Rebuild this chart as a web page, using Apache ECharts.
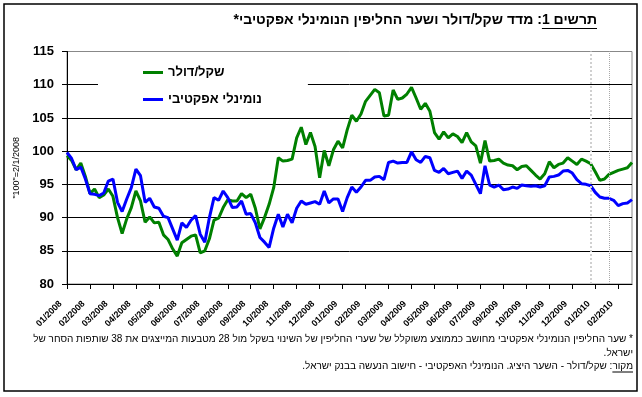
<!DOCTYPE html>
<html>
<head>
<meta charset="utf-8">
<script src="https://cdn.jsdelivr.net/npm/echarts@6/dist/echarts.min.js"></script>
<style>
html, body { margin: 0; padding: 0; background: #fff; }
#chart { width: 642px; height: 397px; }
</style>
</head>
<body>
<div id="chart"></div>
<script>
var tickLabels = ['01/2008', '02/2008', '03/2008', '04/2008', '05/2008', '06/2008', '07/2008',
  '08/2008', '09/2008', '10/2008', '11/2008', '12/2008', '01/2009', '02/2009', '03/2009',
  '04/2009', '05/2009', '06/2009', '07/2009', '09/2009', '10/2009', '11/2009', '12/2009',
  '01/2010', '02/2010'];

// שקל/דולר
var shekelDollar = [
  99.3, 98.6, 97.2, 98.2, 96.2, 93.6, 94.3, 93.0, 93.4, 94.3,
  93.2, 90.0, 87.6, 89.8, 91.5, 94.0, 92.5, 89.3, 90.1, 89.2,
  89.3, 87.4, 86.7, 85.3, 84.2, 86.2, 86.7, 87.2, 87.4, 84.7,
  85.0, 86.8, 89.6, 89.9, 91.5, 92.7, 92.5, 92.5, 93.6, 93.0,
  93.5, 91.4, 88.3, 90.0, 92.0, 94.5, 99.0, 98.5, 98.6, 98.8,
  102.0, 103.6, 101.0, 102.8, 100.7, 96.0, 100.1, 97.8, 100.2, 101.5,
  100.5, 103.2, 105.4, 104.5, 105.6, 107.5, 108.4, 109.3, 108.8, 105.3,
  105.4, 109.2, 107.8, 108.0, 108.6, 109.6, 108.0, 106.3, 107.2, 106.0,
  102.8, 101.8, 102.9, 102.0, 102.6, 102.2, 101.3, 102.8, 101.4, 100.8,
  98.2, 101.6, 98.5, 98.6, 98.8, 98.2, 97.9, 97.8, 97.2, 97.7,
  97.8, 97.1, 96.4, 95.8, 96.6, 98.4, 97.5, 98.0, 98.2, 99.0,
  98.5, 98.0, 98.8, 98.5, 98.1, 96.9, 95.6, 95.8, 96.5, 96.8,
  97.1, 97.3, 97.5, 98.3
];

// נומינלי אפקטיבי
var nominalEffective = [
  99.8, 98.9, 97.2, 97.6, 95.8, 93.6, 93.5, 93.3, 93.7, 95.5,
  95.8, 92.3, 90.9, 92.8, 94.5, 97.3, 96.3, 92.3, 92.9, 91.6,
  91.4, 90.2, 90.0, 88.3, 86.6, 89.2, 88.5, 89.6, 90.3, 87.5,
  86.3, 90.0, 93.0, 92.6, 94.0, 93.0, 91.5, 91.6, 92.5, 90.5,
  90.6, 89.2, 87.0, 86.3, 85.5, 88.4, 90.5, 88.6, 90.5, 89.2,
  91.4, 92.5, 92.0, 92.2, 92.4, 92.0, 94.0, 92.2, 92.8, 92.8,
  90.9, 93.0, 94.6, 93.8, 94.6, 95.6, 95.6, 96.1, 96.2, 95.7,
  98.3, 98.5, 98.2, 98.3, 98.3, 99.9, 98.7, 98.3, 99.2, 99.0,
  97.1, 96.8, 97.4, 96.6, 96.8, 97.0, 95.9, 97.0, 96.4, 95.0,
  93.6, 97.8, 94.9, 94.6, 94.9, 94.2, 94.3, 94.6, 94.4, 94.9,
  94.8, 94.7, 94.8, 94.6, 94.8, 96.1, 96.2, 96.4, 97.0, 97.1,
  96.7, 95.7, 95.1, 95.0, 94.8, 93.8, 93.1, 92.9, 92.9, 92.6,
  91.8, 92.1, 92.2, 92.7
];

var seriesNames = ['שקל/דולר', 'נומינלי אפקטיבי'];
var titleText = 'תרשים 1: מדד שקל/דולר ושער החליפין הנומינלי אפקטיבי*\u200F';
var noteLines = [
  '\u200F* שער החליפין הנומינלי אפקטיבי מחושב כממוצע משוקלל של שערי החליפין של השינוי בשקל מול 28 מטבעות המייצגים את 38 שותפות הסחר של',
  'ישראל.\u200F',
  'מקור: שקל/דולר - השער היציג. הנומינלי האפקטיבי - חישוב הנעשה בבנק ישראל.\u200F'
];

var FONT = '"Liberation Sans", Arial, "DejaVu Sans", sans-serif';

// one label every 5 points
var categories = [];
for (var i = 0; i < shekelDollar.length; i++) {
  categories.push(i % 5 === 0 ? tickLabels[i / 5] : '');
}
function everyFifth(index) { return index % 5 === 0; }

function textWidth(str, font) {
  var ctx = document.createElement('canvas').getContext('2d');
  ctx.font = font;
  return ctx.measureText(str).width;
}

var titleFont = 'bold 14px ' + FONT;
var noteFont = '10px ' + FONT;
var titleRight = 597;
var noteRight = 633;
var titleUnder = textWidth('תרשים 1', titleFont);
var sourceUnder = textWidth('מקור', noteFont);

var myChart = echarts.init(document.getElementById('chart'));

var option = {
  animation: false,
  backgroundColor: '#fff',
  grid: {
    left: 67, right: 10, top: 51.5, bottom: 113,
    containLabel: false,
    outerBoundsMode: 'none',
    show: true,
    borderColor: '#888',
    borderWidth: 1,
    backgroundColor: '#fff'
  },
  legend: {
    orient: 'vertical',
    left: 98,
    top: 61,
    padding: [5, 46, 5, 45],
    itemGap: 14,
    itemWidth: 20,
    itemHeight: 3,
    icon: 'rect',
    backgroundColor: '#fff',
    selectedMode: false,
    data: seriesNames,
    textStyle: { fontFamily: FONT, fontSize: 13, fontWeight: 'bold', color: '#000' }
  },
  xAxis: {
    type: 'category',
    data: categories,
    boundaryGap: false,
    axisLine: { lineStyle: { color: '#000', width: 1 } },
    axisTick: { show: true, interval: everyFifth, length: 5, lineStyle: { color: '#000' } },
    axisLabel: {
      interval: everyFifth,
      rotate: 45,
      margin: 12,
      padding: [0, 9, 0, 0],
      fontFamily: FONT,
      fontSize: 9,
      fontWeight: 'bold',
      color: '#000',
      hideOverlap: false
    },
    splitLine: { show: false }
  },
  yAxis: {
    type: 'value',
    min: 80,
    max: 115,
    interval: 5,
    name: '"100"=2/1/2008',
    nameLocation: 'middle',
    nameRotate: 90,
    nameGap: 42,
    nameTextStyle: { fontFamily: FONT, fontSize: 9, color: '#000' },
    axisLine: { show: true, lineStyle: { color: '#000', width: 1 } },
    axisTick: { show: true, length: 5, lineStyle: { color: '#000' } },
    axisLabel: { margin: 13, fontFamily: FONT, fontSize: 13, fontWeight: 'bold', color: '#000' },
    splitLine: {
      show: true,
      lineStyle: { color: ['#000', '#000', '#000', '#000', '#000', '#000', '#000', '#888'], width: 1 }
    }
  },
  series: [
    {
      name: seriesNames[0],
      type: 'line',
      data: shekelDollar,
      symbol: 'none',
      lineStyle: { color: '#008000', width: 3 },
      itemStyle: { color: '#008000' },
      markLine: {
        silent: true,
        symbol: 'none',
        label: { show: false },
        data: [
          { xAxis: 114, lineStyle: { color: '#d0d0d0', width: 2, type: 'dotted' } },
          { xAxis: 118, lineStyle: { color: '#a8a8a8', width: 1, type: 'dotted' } }
        ]
      }
    },
    {
      name: seriesNames[1],
      type: 'line',
      data: nominalEffective,
      symbol: 'none',
      lineStyle: { color: '#0000ff', width: 3 },
      itemStyle: { color: '#0000ff' }
    }
  ],
  graphic: [
    {
      type: 'rect',
      shape: { x: 4, y: 4, width: 633, height: 387 },
      style: { fill: null, stroke: '#000', lineWidth: 1.5 },
      silent: true
    },
    {
      type: 'text',
      x: titleRight, y: 20,
      style: { text: titleText, font: titleFont, fill: '#000', align: 'right', verticalAlign: 'middle' }
    },
    {
      type: 'line',
      shape: { x1: titleRight - titleUnder, y1: 28.5, x2: titleRight, y2: 28.5 },
      style: { stroke: '#000', lineWidth: 1 }
    },
    {
      type: 'text',
      x: noteRight, y: 339,
      style: { text: noteLines[0], font: noteFont, fill: '#000', align: 'right', verticalAlign: 'middle' }
    },
    {
      type: 'text',
      x: noteRight, y: 353,
      style: { text: noteLines[1], font: noteFont, fill: '#000', align: 'right', verticalAlign: 'middle' }
    },
    {
      type: 'text',
      x: noteRight, y: 366,
      style: { text: noteLines[2], font: noteFont, fill: '#000', align: 'right', verticalAlign: 'middle' }
    },
    {
      type: 'line',
      shape: { x1: noteRight - sourceUnder, y1: 372, x2: noteRight, y2: 372 },
      style: { stroke: '#000', lineWidth: 1 }
    }
  ]
};

myChart.setOption(option);
</script>
</body>
</html>
